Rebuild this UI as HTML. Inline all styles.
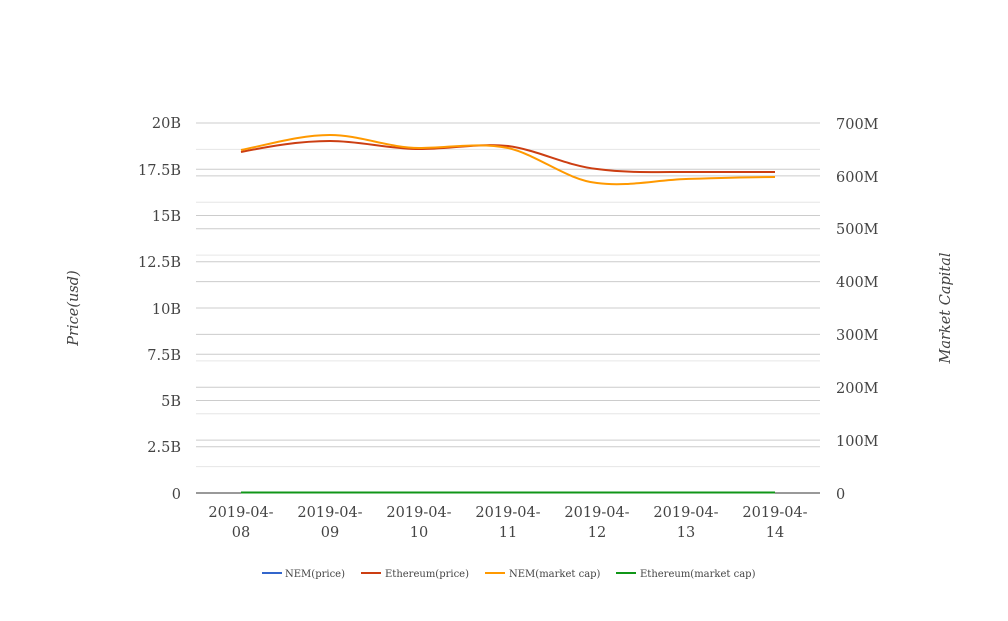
<!DOCTYPE html>
<html><head><meta charset="utf-8"><style>
body{margin:0;background:#fff;}
svg text{font-family:"DejaVu Serif","Liberation Serif",serif;fill:#444;}
</style></head><body>
<svg width="1008" height="616" xmlns="http://www.w3.org/2000/svg">
<g stroke="#e6e6e6" stroke-width="1">
<line x1="196" x2="820" y1="149.4" y2="149.4"/><line x1="196" x2="820" y1="202.3" y2="202.3"/>
<line x1="196" x2="820" y1="255.1" y2="255.1"/><line x1="196" x2="820" y1="308" y2="308"/>
<line x1="196" x2="820" y1="360.9" y2="360.9"/><line x1="196" x2="820" y1="413.7" y2="413.7"/>
<line x1="196" x2="820" y1="466.6" y2="466.6"/>
</g>
<g stroke="#ccc" stroke-width="1">
<line x1="196" x2="820" y1="123" y2="123"/><line x1="196" x2="820" y1="169.3" y2="169.3"/>
<line x1="196" x2="820" y1="215.5" y2="215.5"/><line x1="196" x2="820" y1="261.8" y2="261.8"/>
<line x1="196" x2="820" y1="308" y2="308"/><line x1="196" x2="820" y1="354.3" y2="354.3"/>
<line x1="196" x2="820" y1="400.5" y2="400.5"/><line x1="196" x2="820" y1="446.8" y2="446.8"/>
<line x1="196" x2="820" y1="175.9" y2="175.9"/><line x1="196" x2="820" y1="228.7" y2="228.7"/>
<line x1="196" x2="820" y1="281.6" y2="281.6"/><line x1="196" x2="820" y1="334.4" y2="334.4"/>
<line x1="196" x2="820" y1="387.3" y2="387.3"/><line x1="196" x2="820" y1="440.1" y2="440.1"/>
</g>
<line x1="196" x2="820" y1="493" y2="493" stroke="#333"/>
<g font-size="14.5" text-anchor="end">
<text x="181" y="128">20B</text><text x="181" y="175">17.5B</text><text x="181" y="221">15B</text>
<text x="181" y="267">12.5B</text><text x="181" y="314">10B</text><text x="181" y="360">7.5B</text>
<text x="181" y="406">5B</text><text x="181" y="452">2.5B</text><text x="181" y="499">0</text>
</g>
<g font-size="14.5">
<text x="836" y="129">700M</text><text x="836" y="182">600M</text><text x="836" y="234">500M</text>
<text x="836" y="287">400M</text><text x="836" y="340">300M</text><text x="836" y="393">200M</text>
<text x="836" y="446">100M</text><text x="836" y="499">0</text>
</g>
<g font-size="14.5" text-anchor="middle">
<text x="241" y="517">2019-04-</text><text x="241" y="537">08</text>
<text x="330" y="517">2019-04-</text><text x="330" y="537">09</text>
<text x="419" y="517">2019-04-</text><text x="419" y="537">10</text>
<text x="508" y="517">2019-04-</text><text x="508" y="537">11</text>
<text x="597" y="517">2019-04-</text><text x="597" y="537">12</text>
<text x="686" y="517">2019-04-</text><text x="686" y="537">13</text>
<text x="775" y="517">2019-04-</text><text x="775" y="537">14</text>
</g>
<text transform="translate(78,308) rotate(-90)" font-size="14.5" font-style="italic" text-anchor="middle">Price(usd)</text>
<text transform="translate(950,308) rotate(-90)" font-size="14.5" font-style="italic" text-anchor="middle">Market Capital</text>
<line x1="241" x2="775" y1="492.5" y2="492.5" stroke="#3366cc" stroke-width="2"/>
<line x1="241" x2="775" y1="492.5" y2="492.5" stroke="#109618" stroke-width="2"/>
<path d="M241,152 C271,146 300,141 330,141 C360,141 389,149 419,149 C449,149 478,143 508,146 C538,150 567,166 597,169 C627,173 656,172 686,172 L775,172" fill="none" stroke="#cc3e12" stroke-width="2"/>
<path d="M241,150 C271,144 300,135 330,135 C360,135 389,148 419,148 C449,148 478,142 508,148 C538,155 567,180 597,183 C627,187 656,180 686,179 C716,178 745,177 775,177" fill="none" stroke="#ff9900" stroke-width="2"/>
<g font-size="10">
<line x1="262" x2="282" y1="573" y2="573" stroke="#3366cc" stroke-width="2"/><text x="285" y="577">NEM(price)</text>
<line x1="361" x2="381" y1="573" y2="573" stroke="#cc3e12" stroke-width="2"/><text x="385" y="577">Ethereum(price)</text>
<line x1="485" x2="505" y1="573" y2="573" stroke="#ff9900" stroke-width="2"/><text x="509" y="577">NEM(market cap)</text>
<line x1="616" x2="636" y1="573" y2="573" stroke="#109618" stroke-width="2"/><text x="640" y="577">Ethereum(market cap)</text>
</g>
</svg>
</body></html>
